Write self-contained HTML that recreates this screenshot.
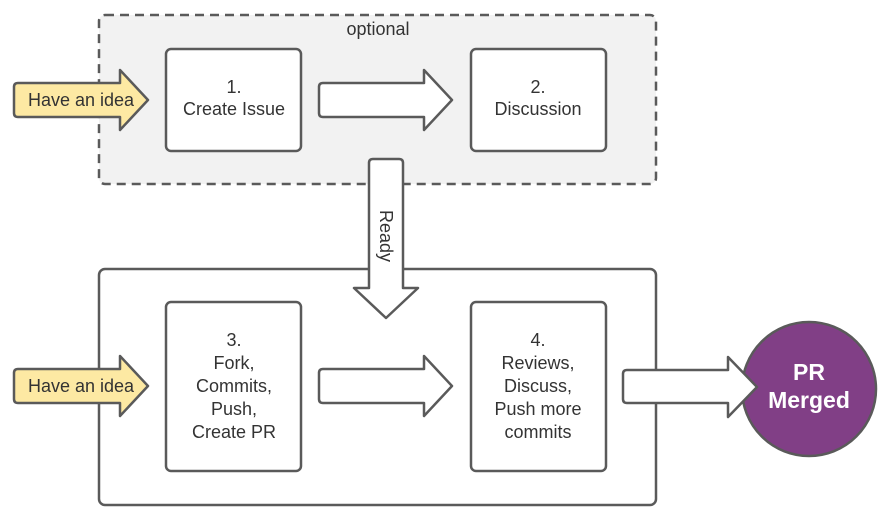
<!DOCTYPE html>
<html><head><style>body{margin:0;background:#fff}svg{display:block}text{font-family:"Liberation Sans",sans-serif;fill:#333}</style></head><body>
<svg width="887" height="518" viewBox="0 0 887 518">
<rect x="99" y="15" width="557" height="169" rx="6" fill="#f2f2f2" stroke="#5a5a5a" stroke-width="2.5" stroke-dasharray="9,6"/>
<text x="378" y="35" font-size="18" text-anchor="middle">optional</text>
<rect x="99" y="269" width="557" height="236" rx="6" fill="#fff" stroke="#5a5a5a" stroke-width="2.5"/>
<g stroke="#5a5a5a" stroke-width="2.5" stroke-linejoin="round">
<path d="M18 83 H120 V70 L148 100 L120 130 V117 H18 Q14 117 14 113 V87 Q14 83 18 83Z" fill="#fde9a3"/>
<path d="M18 369 H120 V356 L148 386 L120 416 V403 H18 Q14 403 14 399 V373 Q14 369 18 369Z" fill="#fde9a3"/>
<rect x="166" y="49" width="135" height="102" rx="5" fill="#fff"/>
<rect x="471" y="49" width="135" height="102" rx="5" fill="#fff"/>
<rect x="166" y="302" width="135" height="169" rx="5" fill="#fff"/>
<rect x="471" y="302" width="135" height="169" rx="5" fill="#fff"/>
<path d="M323 83 H424 V70 L452 100 L424 130 V117 H323 Q319 117 319 113 V87 Q319 83 323 83Z" fill="#fff"/>
<path d="M323 369 H424 V356 L452 386 L424 416 V403 H323 Q319 403 319 399 V373 Q319 369 323 369Z" fill="#fff"/>
<circle cx="809" cy="389" r="67" fill="#813f86"/>
<path d="M627 370 H728 V357 L757 387 L728 417 V403 H627 Q623 403 623 399 V374 Q623 370 627 370Z" fill="#fff"/>
<path d="M373 159 H399 Q403 159 403 163 V288 H418 L386 318 L354 288 H369 V163 Q369 159 373 159Z" fill="#fff"/>
</g>
<g font-size="18" text-anchor="middle">
<text x="81" y="106">Have an idea</text>
<text x="81" y="392">Have an idea</text>
<text x="234" y="93">1.</text><text x="234" y="115">Create Issue</text>
<text x="538" y="93">2.</text><text x="538" y="115">Discussion</text>
<text x="234" y="346">3.</text><text x="234" y="369">Fork,</text><text x="234" y="392">Commits,</text><text x="234" y="415">Push,</text><text x="234" y="438">Create PR</text>
<text x="538" y="346">4.</text><text x="538" y="369">Reviews,</text><text x="538" y="392">Discuss,</text><text x="538" y="415">Push more</text><text x="538" y="438">commits</text>
<text transform="translate(380,236) rotate(90)">Ready</text>
</g>
<g font-size="23" font-weight="bold" text-anchor="middle">
<text x="809" y="380" style="fill:#fff">PR</text><text x="809" y="408" style="fill:#fff">Merged</text>
</g>
</svg>
</body></html>
